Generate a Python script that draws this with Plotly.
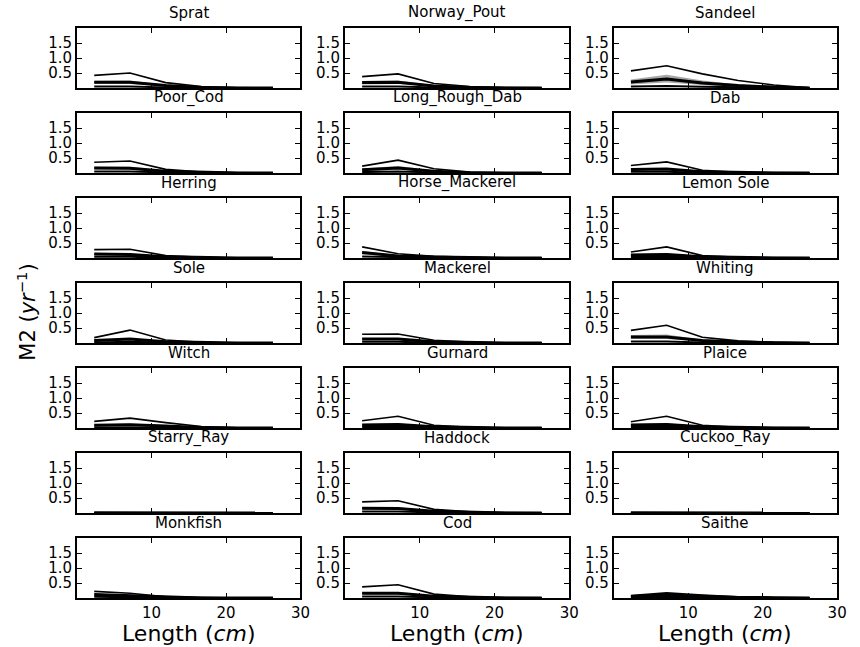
import plotly.graph_objects as go

# ---------------- data ----------------
LENGTH = [2.3, 7.1, 11.9, 16.7, 21.5, 26.3]

SPECIES = ["Sprat", "Norway_Pout", "Sandeel",
           "Poor_Cod", "Long_Rough_Dab", "Dab",
           "Herring", "Horse_Mackerel", "Lemon Sole",
           "Sole", "Mackerel", "Whiting",
           "Witch", "Gurnard", "Plaice",
           "Starry_Ray", "Haddock", "Cuckoo_Ray",
           "Monkfish", "Cod", "Saithe"]

UPPER = [
    [0.42, 0.50, 0.18, 0.05, 0.01, 0.0],
    [0.38, 0.47, 0.15, 0.05, 0.01, 0.0],
    [0.57, 0.74, 0.47, 0.25, 0.10, 0.01],
    [0.36, 0.40, 0.12, 0.03, 0.01, 0.0],
    [0.23, 0.43, 0.14, 0.03, 0.01, 0.0],
    [0.25, 0.37, 0.09, 0.02, 0.0, 0.0],
    [0.28, 0.29, 0.08, 0.02, 0.0, 0.0],
    [0.37, 0.14, 0.06, 0.02, 0.0, 0.0],
    [0.20, 0.37, 0.08, 0.02, 0.0, 0.0],
    [0.18, 0.43, 0.10, 0.02, 0.0, 0.0],
    [0.29, 0.30, 0.09, 0.03, 0.0, 0.0],
    [0.42, 0.59, 0.19, 0.07, 0.02, 0.0],
    [0.22, 0.33, 0.18, 0.05, 0.01, 0.0],
    [0.24, 0.39, 0.09, 0.02, 0.0, 0.0],
    [0.21, 0.39, 0.09, 0.02, 0.0, 0.0],
    [0.01, 0.01, 0.0, 0.0, 0.0, 0.0],
    [0.37, 0.41, 0.12, 0.04, 0.01, 0.0],
    [0.01, 0.01, 0.0, 0.0, 0.0, 0.0],
    [0.22, 0.16, 0.04, 0.01, 0.0, 0.0],
    [0.37, 0.44, 0.13, 0.04, 0.01, 0.0],
    [0.08, 0.17, 0.10, 0.04, 0.01, 0.0],
]

BAND_HI = [
    [0.24, 0.25, 0.10, 0.03, 0.01, 0.0],
    [0.23, 0.25, 0.09, 0.03, 0.01, 0.0],
    [0.28, 0.44, 0.25, 0.12, 0.05, 0.01],
    [0.21, 0.21, 0.08, 0.02, 0.0, 0.0],
    [0.15, 0.23, 0.08, 0.02, 0.0, 0.0],
    [0.15, 0.17, 0.05, 0.01, 0.0, 0.0],
    [0.16, 0.15, 0.05, 0.01, 0.0, 0.0],
    [0.23, 0.09, 0.04, 0.01, 0.0, 0.0],
    [0.13, 0.16, 0.05, 0.01, 0.0, 0.0],
    [0.11, 0.17, 0.05, 0.01, 0.0, 0.0],
    [0.16, 0.16, 0.05, 0.01, 0.0, 0.0],
    [0.27, 0.28, 0.11, 0.04, 0.01, 0.0],
    [0.12, 0.15, 0.09, 0.03, 0.0, 0.0],
    [0.13, 0.16, 0.05, 0.01, 0.0, 0.0],
    [0.13, 0.16, 0.05, 0.01, 0.0, 0.0],
    [0.01, 0.01, 0.0, 0.0, 0.0, 0.0],
    [0.20, 0.19, 0.08, 0.02, 0.0, 0.0],
    [0.01, 0.01, 0.0, 0.0, 0.0, 0.0],
    [0.15, 0.10, 0.03, 0.01, 0.0, 0.0],
    [0.20, 0.20, 0.08, 0.02, 0.0, 0.0],
    [0.06, 0.12, 0.07, 0.03, 0.01, 0.0],
]

MEDIAN = [
    [0.19, 0.19, 0.08, 0.02, 0.0, 0.0],
    [0.18, 0.19, 0.07, 0.02, 0.0, 0.0],
    [0.20, 0.30, 0.17, 0.08, 0.03, 0.0],
    [0.17, 0.16, 0.06, 0.02, 0.0, 0.0],
    [0.11, 0.17, 0.06, 0.01, 0.0, 0.0],
    [0.12, 0.13, 0.04, 0.01, 0.0, 0.0],
    [0.13, 0.12, 0.04, 0.01, 0.0, 0.0],
    [0.18, 0.07, 0.03, 0.01, 0.0, 0.0],
    [0.10, 0.12, 0.04, 0.01, 0.0, 0.0],
    [0.08, 0.13, 0.04, 0.01, 0.0, 0.0],
    [0.13, 0.13, 0.04, 0.01, 0.0, 0.0],
    [0.20, 0.20, 0.08, 0.03, 0.01, 0.0],
    [0.09, 0.11, 0.07, 0.02, 0.0, 0.0],
    [0.10, 0.12, 0.04, 0.01, 0.0, 0.0],
    [0.10, 0.12, 0.04, 0.01, 0.0, 0.0],
    [0.005, 0.005, 0.0, 0.0, 0.0, 0.0],
    [0.16, 0.15, 0.06, 0.02, 0.0, 0.0],
    [0.005, 0.005, 0.0, 0.0, 0.0, 0.0],
    [0.12, 0.08, 0.02, 0.0, 0.0, 0.0],
    [0.16, 0.16, 0.06, 0.02, 0.0, 0.0],
    [0.05, 0.10, 0.06, 0.02, 0.01, 0.0],
]

BAND_LO = [
    [0.13, 0.13, 0.05, 0.01, 0.0, 0.0],
    [0.12, 0.13, 0.05, 0.01, 0.0, 0.0],
    [0.12, 0.18, 0.10, 0.04, 0.01, 0.0],
    [0.12, 0.11, 0.04, 0.01, 0.0, 0.0],
    [0.07, 0.11, 0.04, 0.01, 0.0, 0.0],
    [0.08, 0.09, 0.03, 0.01, 0.0, 0.0],
    [0.09, 0.09, 0.03, 0.01, 0.0, 0.0],
    [0.12, 0.05, 0.02, 0.01, 0.0, 0.0],
    [0.07, 0.08, 0.03, 0.01, 0.0, 0.0],
    [0.05, 0.09, 0.03, 0.01, 0.0, 0.0],
    [0.09, 0.09, 0.03, 0.01, 0.0, 0.0],
    [0.13, 0.13, 0.05, 0.02, 0.0, 0.0],
    [0.06, 0.07, 0.05, 0.01, 0.0, 0.0],
    [0.07, 0.08, 0.03, 0.01, 0.0, 0.0],
    [0.07, 0.08, 0.03, 0.01, 0.0, 0.0],
    [0.0, 0.0, 0.0, 0.0, 0.0, 0.0],
    [0.11, 0.10, 0.04, 0.01, 0.0, 0.0],
    [0.0, 0.0, 0.0, 0.0, 0.0, 0.0],
    [0.08, 0.05, 0.01, 0.0, 0.0, 0.0],
    [0.11, 0.11, 0.04, 0.01, 0.0, 0.0],
    [0.03, 0.07, 0.04, 0.01, 0.0, 0.0],
]

LOWER = [
    [0.05, 0.05, 0.02, 0.01, 0.0, 0.0],
    [0.05, 0.05, 0.02, 0.01, 0.0, 0.0],
    [0.05, 0.07, 0.04, 0.02, 0.01, 0.0],
    [0.05, 0.05, 0.02, 0.01, 0.0, 0.0],
    [0.03, 0.05, 0.02, 0.0, 0.0, 0.0],
    [0.04, 0.04, 0.01, 0.0, 0.0, 0.0],
    [0.04, 0.04, 0.01, 0.0, 0.0, 0.0],
    [0.05, 0.02, 0.01, 0.0, 0.0, 0.0],
    [0.03, 0.04, 0.01, 0.0, 0.0, 0.0],
    [0.02, 0.04, 0.01, 0.0, 0.0, 0.0],
    [0.04, 0.04, 0.01, 0.0, 0.0, 0.0],
    [0.05, 0.05, 0.02, 0.01, 0.0, 0.0],
    [0.02, 0.03, 0.02, 0.0, 0.0, 0.0],
    [0.03, 0.04, 0.01, 0.0, 0.0, 0.0],
    [0.03, 0.04, 0.01, 0.0, 0.0, 0.0],
    [0.0, 0.0, 0.0, 0.0, 0.0, 0.0],
    [0.05, 0.05, 0.02, 0.01, 0.0, 0.0],
    [0.0, 0.0, 0.0, 0.0, 0.0, 0.0],
    [0.04, 0.02, 0.01, 0.0, 0.0, 0.0],
    [0.05, 0.05, 0.02, 0.01, 0.0, 0.0],
    [0.02, 0.04, 0.02, 0.01, 0.0, 0.0],
]

X_TICKS = [10, 20, 30]
Y_TICKS = [0.5, 1.0, 1.5]
Y_TICK_TEXT = ["0.5", "1.0", "1.5"]
X_TITLE = "Length (<i>cm</i>)"
Y_TITLE = "M2 (<i>yr</i><sup>−1</sup>)"

# ---------------- layout geometry (pixels) ----------------
W, H = 860, 647
COL_X = [(78, 304), (349, 576), (621, 847)]
ROW_TOP0, ROW_H, ROW_PITCH = 28, 60, 85
FONT = "DejaVu Sans"

fig = go.Figure()
layout = dict(
    width=W, height=H, autosize=False,
    margin=dict(l=0, r=0, t=0, b=0),
    paper_bgcolor="white", plot_bgcolor="white",
    showlegend=False,
    font=dict(family=FONT, color="black"),
)
annotations = []

for i, name in enumerate(SPECIES):
    r, c = divmod(i, 3)
    idx = i + 1
    xa = "xaxis" if idx == 1 else f"xaxis{idx}"
    ya = "yaxis" if idx == 1 else f"yaxis{idx}"
    xref = "x" if idx == 1 else f"x{idx}"
    yref = "y" if idx == 1 else f"y{idx}"
    x0, x1 = COL_X[c]
    top = ROW_TOP0 + r * ROW_PITCH
    bot = top + ROW_H
    layout[xa] = dict(
        domain=[x0 / W, x1 / W], anchor=yref, range=[0, 30],
        tickvals=X_TICKS, ticktext=[str(v) for v in X_TICKS],
        showticklabels=(r == 6), ticks="inside", ticklen=5, tickwidth=1.3,
        tickcolor="black", showline=True, linewidth=2, linecolor="black",
        mirror="allticks", showgrid=False, zeroline=False,
        tickfont=dict(size=15, family=FONT), fixedrange=True,
    )
    layout[ya] = dict(
        domain=[1 - bot / H, 1 - top / H], anchor=xref, range=[0, 2],
        tickvals=Y_TICKS, ticktext=Y_TICK_TEXT,
        ticks="inside", ticklen=5, tickwidth=1.3, tickcolor="black",
        showline=True, linewidth=2, linecolor="black", mirror="allticks",
        showgrid=False, zeroline=False,
        tickfont=dict(size=15, family=FONT), fixedrange=True,
    )
    # band
    fig.add_trace(go.Scatter(x=LENGTH, y=BAND_LO[i], mode="lines",
                             line=dict(color="rgba(120,120,120,0)", width=0),
                             xaxis=xref, yaxis=yref, hoverinfo="skip"))
    fig.add_trace(go.Scatter(x=LENGTH, y=BAND_HI[i], mode="lines",
                             line=dict(color="rgba(120,120,120,0)", width=0),
                             fill="tonexty", fillcolor="rgba(120,120,120,0.65)",
                             xaxis=xref, yaxis=yref, hoverinfo="skip"))
    fig.add_trace(go.Scatter(x=LENGTH, y=LOWER[i], mode="lines",
                             line=dict(color="black", width=2),
                             xaxis=xref, yaxis=yref))
    fig.add_trace(go.Scatter(x=LENGTH, y=MEDIAN[i], mode="lines",
                             line=dict(color="black", width=3),
                             xaxis=xref, yaxis=yref))
    fig.add_trace(go.Scatter(x=LENGTH, y=UPPER[i], mode="lines",
                             line=dict(color="black", width=1.6),
                             xaxis=xref, yaxis=yref))
    annotations.append(dict(
        text=name, xref="paper", yref="paper",
        x=(x0 + x1) / 2 / W, y=1 - (top - 4) / H,
        xanchor="center", yanchor="bottom", showarrow=False,
        font=dict(size=15, family=FONT, color="black"),
    ))

for (x0, x1) in COL_X:
    annotations.append(dict(
        text=X_TITLE, xref="paper", yref="paper",
        x=(x0 + x1) / 2 / W, y=1 - 633 / H,
        xanchor="center", yanchor="middle", showarrow=False,
        font=dict(size=22, family=FONT, color="black"),
    ))

annotations.append(dict(
    text=Y_TITLE, xref="paper", yref="paper",
    x=27 / W, y=1 - 312 / H, textangle=-90,
    xanchor="center", yanchor="middle", showarrow=False,
    font=dict(size=21, family=FONT, color="black"),
))

layout["annotations"] = annotations
fig.update_layout(**layout)
fig.write_html("out.html")
